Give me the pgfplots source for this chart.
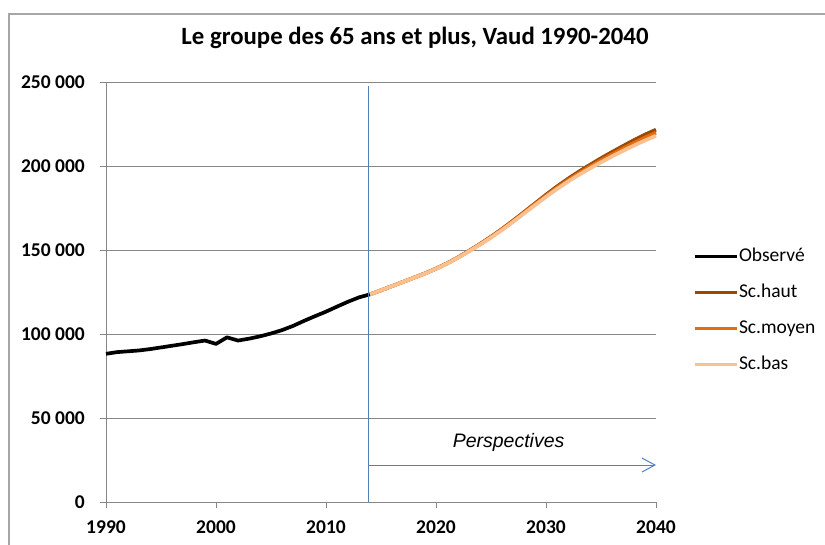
\documentclass[border=0pt]{standalone}
\usepackage{fontspec}
\setmainfont{Carlito}
\newfontfamily\arialfont{Liberation Sans}
\usepackage{pgfplots}
\pgfplotsset{compat=1.18}
\usetikzlibrary{arrows.meta}
\definecolor{gridgray}{HTML}{868686}
\definecolor{bordergray}{HTML}{A6A6A6}
\definecolor{vblue}{HTML}{4F81BD}
\definecolor{haut}{HTML}{984807}
\definecolor{moyen}{HTML}{E46C0A}
\definecolor{bas}{HTML}{FAC090}

\pgfplotstableread{
year obs
1990 88200
1991 89200
1992 89700
1993 90200
1994 91000
1995 92000
1996 93000
1997 94000
1998 95100
1999 96100
2000 94100
2001 98000
2002 96100
2003 97200
2004 98600
2005 100300
2006 102300
2007 104800
2008 107800
2009 110600
2010 113300
2011 116300
2012 119200
2013 121800
2014 123600
}\obs

\pgfplotstableread{
year haut moyen bas
2014 123600 123600 123600
2015 126000 126000 126000
2016 128500 128500 128500
2017 131000 131000 131000
2018 133550 133520 133500
2019 136080 136040 136000
2020 138900 138850 138800
2021 142050 141980 141900
2022 145600 145500 145400
2023 149500 149350 149200
2024 153550 153380 153200
2025 157900 157650 157400
2026 162500 162200 161900
2027 167450 167080 166700
2028 172550 172120 171700
2029 177700 177200 176700
2030 182900 182250 181600
2031 187800 187050 186300
2032 192400 191550 190700
2033 196700 195750 194800
2034 200700 199650 198600
2035 204600 203400 202200
2036 208300 207000 205700
2037 211900 210450 209000
2038 215400 213800 212200
2039 218700 216950 215200
2040 221600 219800 218000
}\proj

\begin{document}
\begin{tikzpicture}[x=1pt,y=1pt]
\begin{axis}[
  at={(0pt,0pt)}, anchor=south west,
  scale only axis, width=550pt, height=420pt,
  xmin=1990, xmax=2040, ymin=0, ymax=250000,
  axis lines*=left,
  axis line style={gridgray, line width=0.8pt},
  xtick={1990,2000,2010,2020,2030,2040},
  xticklabels={1990,2000,2010,2020,2030,2040},
  ytick={0,50000,100000,150000,200000,250000},
  yticklabels={0,50 000,100 000,150 000,200 000,250 000},
  scaled y ticks=false,
  tick align=outside, major tick length=6pt,
  tick style={gridgray, line width=0.8pt},
  ymajorgrids, grid style={gridgray, line width=0.8pt},
  ticklabel style={font=\bfseries\fontsize{19.5}{23}\selectfont, inner sep=0pt},
  yticklabel style={anchor=east, xshift=-15pt},
  xticklabel style={anchor=north, yshift=-13pt},
  legend image code/.code={\draw[#1, line width=3pt] (0pt,0pt) -- (42pt,0pt);},
  legend style={draw=none, fill=none, inner sep=0pt, outer sep=0pt,
    at={(1.0673,0.6071)}, anchor=north west,
    row sep=18.3pt,
    font=\fontsize{19.5}{23}\selectfont,
    nodes={inner sep=0pt, text height=14pt, text depth=4pt},
    /tikz/every odd column/.style={column sep=1pt}},
  legend cell align=left,
  clip=false,
]
\addplot[black, line width=3.7pt, line join=round] table[x=year, y=obs] {\obs};
\addlegendentry{Observé}
\addplot[haut, line width=3.7pt, line join=round] table[x=year, y=haut] {\proj};
\addlegendentry{Sc.haut}
\addplot[moyen, line width=3.7pt, line join=round] table[x=year, y=moyen] {\proj};
\addlegendentry{Sc.moyen}
\addplot[bas, line width=3.7pt, line join=round] table[x=year, y=bas] {\proj};
\addlegendentry{Sc.bas}
\draw[vblue, line width=1pt] (axis cs:2013.85,0) -- (axis cs:2013.85,247600);
\draw[vblue, line width=1pt, -{Straight Barb[length=13pt,width=14pt]}] (axis cs:2013.85,22000) -- (axis cs:2040,22000);
\node[anchor=base, font=\arialfont\itshape\fontsize{19.5}{23}\selectfont] at (axis cs:2026.6,32560) {Perspectives};
\end{axis}
\node[anchor=base, font=\bfseries\fontsize{24.8}{30}\selectfont] at (309,457) {Le groupe des 65 ans et plus, Vaud 1990-2040};
\draw[bordergray, line width=1.2pt] (-97,-43) -- (-97,488) -- (719,488);
\pgfresetboundingbox
\path[use as bounding box] (-106,-43) rectangle (719,502);
\end{tikzpicture}
\end{document}
